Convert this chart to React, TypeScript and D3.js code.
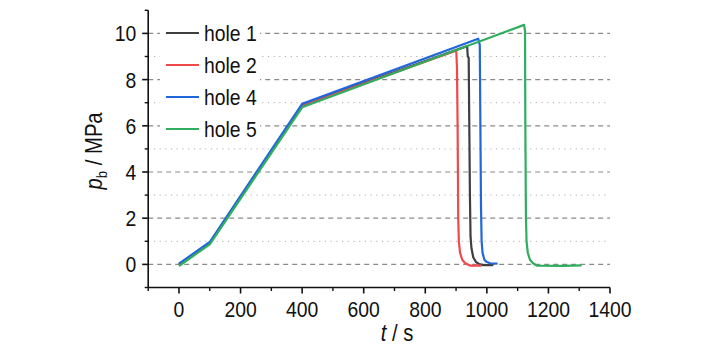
import React from "react";
import * as d3 from "d3";

const seriesNames = ["hole 1", "hole 2", "hole 4", "hole 5"];
const seriesColors = ["#3f3f3f", "#f0484b", "#2166dc", "#2fae5e"];

const hole1T = [0, 100, 400, 936, 938, 941, 943, 945, 947, 950, 956, 965, 975, 988, 1021];
const hole1P = [0, 0.93, 6.9, 9.45, 9.0, 8.95, 6.0, 3.0, 1.2, 0.7, 0.3, 0.1, 0.02, -0.03, -0.03];
const hole2T = [0, 100, 400, 900, 901, 903, 905, 907, 909, 913, 920, 930, 945, 983];
const hole2P = [-0.02, 0.92, 6.88, 9.25, 9.15, 8.5, 6.0, 2.0, 1.0, 0.5, 0.2, 0.05, -0.05, -0.05];
const hole4T = [0, 100, 400, 972, 977, 979, 981, 983, 986, 992, 1000, 1010, 1035];
const hole4P = [0.03, 0.97, 6.95, 9.77, 9.5, 6.0, 2.5, 1.0, 0.5, 0.2, 0.1, 0.05, 0.03];
const hole5T = [0, 100, 400, 1121, 1124, 1125, 1127, 1129, 1133, 1140, 1150, 1162, 1250, 1308];
const hole5P = [-0.07, 0.87, 6.8, 10.37, 10.1, 6.0, 2.0, 1.0, 0.5, 0.2, 0.05, -0.05, -0.06, -0.04];

const xMajorTicks = [0, 200, 400, 600, 800, 1000, 1200, 1400];
const xMinorTicks = [-100, 100, 300, 500, 700, 900, 1100, 1300];
const yMajorTicks = [0, 2, 4, 6, 8, 10];
const yMinorTicks = [-1, 1, 3, 5, 7, 9, 11];

const allT = [hole1T, hole2T, hole4T, hole5T];
const allP = [hole1P, hole2P, hole4P, hole5P];

const SX = 0.88;

export default function App() {
  const x = d3.scaleLinear().domain([-100, 1400]).range([148.2, 610]);
  const y = d3.scaleLinear().domain([-1, 11]).range([287.5, 10.3]);
  const line = d3
    .line<[number, number]>()
    .x((d) => x(d[0]))
    .y((d) => y(d[1]));
  const font = "'Liberation Sans', Arial, sans-serif";
  const x0 = x(-100);
  const x1 = x(1400);
  const yb = y(-1);
  const yt = y(11);
  const legendRows = [33, 65, 97, 129];

  return (
    <svg
      width={727}
      height={347}
      style={{ position: "absolute", left: 0, top: 0, background: "#fff" }}
      fontFamily={font}
    >
      {/* grid */}
      {yMajorTicks.map((v) => (
        <line key={"gM" + v} x1={x0} x2={x1} y1={y(v)} y2={y(v)} stroke="#8a8a8a" strokeWidth={1.2} strokeDasharray="5,4" />
      ))}
      {yMinorTicks
        .filter((v) => v > -1 && v < 11)
        .map((v) => (
          <line key={"gm" + v} x1={x0} x2={x1} y1={y(v)} y2={y(v)} stroke="#b0b0b0" strokeWidth={1} strokeDasharray="1.2,4.5" />
        ))}
      {/* series */}
      {allT.map((ts, i) => (
        <path
          key={"s" + i}
          d={line(ts.map((t, j) => [t, allP[i][j]] as [number, number])) || ""}
          fill="none"
          stroke={seriesColors[i]}
          strokeWidth={2.2}
          strokeLinejoin="round"
        />
      ))}
      {/* legend */}
      <rect x={160} y={16} width={100} height={128} fill="#fff" />
      {seriesNames.map((n, i) => (
        <g key={"l" + i}>
          <line x1={166} x2={199} y1={legendRows[i]} y2={legendRows[i]} stroke={seriesColors[i]} strokeWidth={2} />
          <text transform={`translate(204, ${legendRows[i]}) scale(${SX},1)`} dy="0.36em" fontSize={22} fill="#111">
            {n}
          </text>
        </g>
      ))}
      {/* axes */}
      <line x1={x0} x2={x0} y1={yt} y2={yb} stroke="#111" strokeWidth={1.6} />
      <line x1={x0} x2={x1} y1={yb} y2={yb} stroke="#111" strokeWidth={1.6} />
      {yMajorTicks.map((v) => (
        <g key={"yt" + v}>
          <line x1={x0 - 6} x2={x0} y1={y(v)} y2={y(v)} stroke="#111" strokeWidth={1.6} />
          <text transform={`translate(${x0 - 12}, ${y(v)}) scale(${SX},1)`} dy="0.36em" textAnchor="end" fontSize={22} fill="#111">
            {v}
          </text>
        </g>
      ))}
      {yMinorTicks.map((v) => (
        <line key={"ym" + v} x1={x0 - 3.5} x2={x0} y1={y(v)} y2={y(v)} stroke="#111" strokeWidth={1.4} />
      ))}
      {xMajorTicks.map((v) => (
        <g key={"xt" + v}>
          <line x1={x(v)} x2={x(v)} y1={yb} y2={yb + 6} stroke="#111" strokeWidth={1.6} />
          <text transform={`translate(${x(v)}, ${yb + 29}) scale(${SX},1)`} textAnchor="middle" fontSize={22} fill="#111">
            {v}
          </text>
        </g>
      ))}
      {xMinorTicks.map((v) => (
        <line key={"xm" + v} x1={x(v)} x2={x(v)} y1={yb} y2={yb + 3.5} stroke="#111" strokeWidth={1.4} />
      ))}
      {/* axis titles */}
      <text transform={`translate(${(x0 + x1) / 2 + 18}, 341) scale(${SX},1)`} textAnchor="middle" fontSize={23} fill="#111">
        <tspan fontStyle="italic">t</tspan>
        <tspan> / s</tspan>
      </text>
      <text transform={`translate(102, ${(yt + yb) / 2 + 2}) rotate(-90) scale(${SX},1)`} textAnchor="middle" fontSize={23} fill="#111">
        <tspan fontStyle="italic">p</tspan>
        <tspan fontSize={15} dy={5}>b</tspan>
        <tspan dy={-5}> / MPa</tspan>
      </text>
    </svg>
  );
}
